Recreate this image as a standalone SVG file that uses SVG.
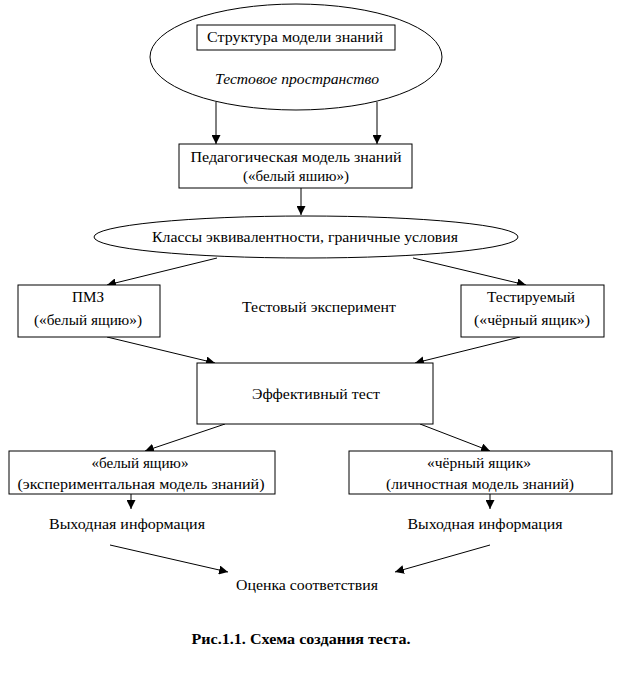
<svg xmlns="http://www.w3.org/2000/svg" width="626" height="674" viewBox="0 0 626 674">
<style>
.s{fill:#fff;stroke:#000;stroke-width:1}
text{font-family:'Liberation Serif','Times New Roman','DejaVu Serif',serif;font-size:14px;fill:#000;text-anchor:middle}
.i{font-style:italic}
.b{font-weight:bold}
.c{stroke:#000;stroke-width:1;fill:none;marker-end:url(#a)}
</style>
<defs>
<marker id="a" viewBox="0 0 10 10" refX="10" refY="5" markerWidth="9" markerHeight="9" markerUnits="userSpaceOnUse" orient="auto">
<path d="M0,0 L10,5 L0,10 Z" fill="#000"/>
</marker>
</defs>
<rect width="626" height="674" fill="#fff"/>
<g id="connectors">
<line class="c" x1="216" y1="102" x2="216" y2="144"/>
<line class="c" x1="377" y1="102" x2="377" y2="144"/>
<line class="c" x1="301" y1="188" x2="301" y2="215"/>
<line class="c" x1="217" y1="258" x2="107" y2="285"/>
<line class="c" x1="413" y1="258" x2="526" y2="285"/>
<line class="c" x1="107" y1="337" x2="215" y2="363"/>
<line class="c" x1="520" y1="337" x2="415" y2="363"/>
<line class="c" x1="225" y1="424" x2="145" y2="451"/>
<line class="c" x1="420" y1="424" x2="490" y2="451"/>
<line class="c" x1="131" y1="494" x2="131" y2="509"/>
<line class="c" x1="490" y1="494" x2="490" y2="509"/>
<line class="c" x1="110" y1="545" x2="228" y2="572"/>
<line class="c" x1="490" y1="545" x2="395" y2="572"/>
</g>
<g id="test-space">
<ellipse class="s" cx="296" cy="57" rx="146" ry="53"/>
<text class="i" x="297" y="84" textLength="164" lengthAdjust="spacingAndGlyphs">Тестовое пространство</text>
</g>
<g id="structure">
<rect class="s" x="197" y="25" width="198" height="25"/>
<text x="295" y="42" textLength="176" lengthAdjust="spacingAndGlyphs">Структура модели знаний</text>
</g>
<g id="ped-model">
<rect class="s" x="179" y="144" width="233" height="44"/>
<text x="296" y="162" textLength="211" lengthAdjust="spacingAndGlyphs">Педагогическая модель знаний</text>
<text x="296" y="181" textLength="106" lengthAdjust="spacingAndGlyphs">(«белый яшию»)</text>
</g>
<g id="classes">
<ellipse class="s" cx="306" cy="237" rx="212" ry="21"/>
<text x="305" y="242" textLength="306" lengthAdjust="spacingAndGlyphs">Классы эквивалентности, граничные условия</text>
</g>
<g id="pmz">
<rect class="s" x="18" y="285" width="142" height="52"/>
<text x="88" y="302" textLength="32" lengthAdjust="spacingAndGlyphs">ПМЗ</text>
<text x="88" y="325" textLength="108" lengthAdjust="spacingAndGlyphs">(«белый ящию»)</text>
</g>
<g id="experiment">
<text x="319" y="312" textLength="154" lengthAdjust="spacingAndGlyphs">Тестовый эксперимент</text>
</g>
<g id="tested">
<rect class="s" x="461" y="285" width="143" height="52"/>
<text x="531" y="302" textLength="88" lengthAdjust="spacingAndGlyphs">Тестируемый</text>
<text x="532" y="325" textLength="116" lengthAdjust="spacingAndGlyphs">(«чёрный ящик»)</text>
</g>
<g id="effective">
<rect class="s" x="197" y="363" width="236" height="61"/>
<text x="316" y="399" textLength="128" lengthAdjust="spacingAndGlyphs">Эффективный тест</text>
</g>
<g id="white-box">
<rect class="s" x="9" y="451" width="266" height="43"/>
<text x="140" y="468" textLength="97" lengthAdjust="spacingAndGlyphs">«белый ящию»</text>
<text x="141" y="489" textLength="247" lengthAdjust="spacingAndGlyphs">(экспериментальная модель знаний)</text>
</g>
<g id="black-box">
<rect class="s" x="349" y="451" width="263" height="43"/>
<text x="479" y="468" textLength="104" lengthAdjust="spacingAndGlyphs">«чёрный ящик»</text>
<text x="480" y="489" textLength="188" lengthAdjust="spacingAndGlyphs">(личностная модель знаний)</text>
</g>
<g id="out-left">
<text x="127" y="529" textLength="156" lengthAdjust="spacingAndGlyphs">Выходная информация</text>
</g>
<g id="out-right">
<text x="485" y="529" textLength="155" lengthAdjust="spacingAndGlyphs">Выходная информация</text>
</g>
<g id="evaluation">
<text x="307" y="590" textLength="142" lengthAdjust="spacingAndGlyphs">Оценка соответствия</text>
</g>
<g id="caption">
<text class="b" x="301" y="644" textLength="219" lengthAdjust="spacingAndGlyphs">Рис.1.1. Схема создания теста.</text>
</g>
</svg>
